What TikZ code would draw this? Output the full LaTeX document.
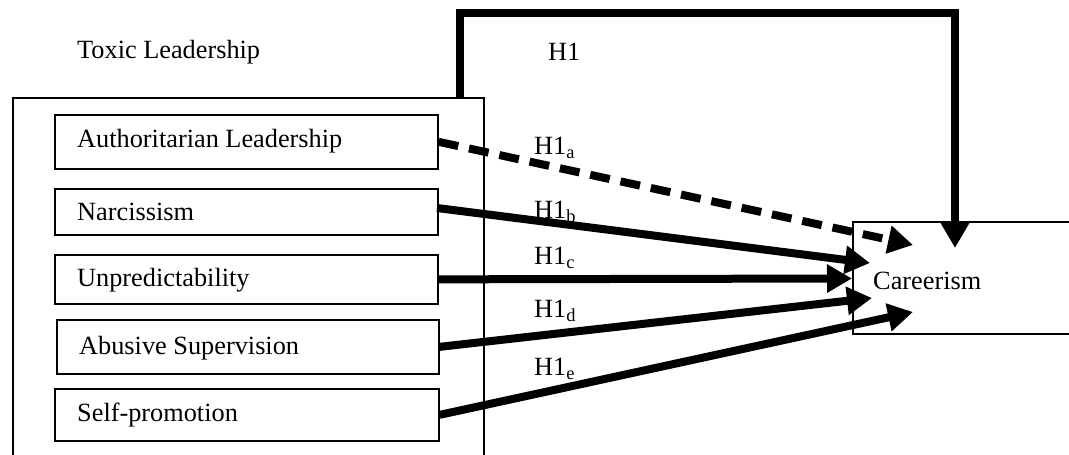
\documentclass[tikz,border=0pt]{standalone}
\usepackage{fontspec}
\setmainfont{Liberation Serif}
\usetikzlibrary{arrows.meta}
\begin{document}
\begin{tikzpicture}[x=1pt,y=-1pt,
  every node/.style={font=\fontsize{26.3}{30}\selectfont},
  box/.style={draw,line width=1.7pt,rectangle,inner sep=0pt,anchor=north west},
  lbl/.style={anchor=west,inner sep=0pt},
  con/.style={line width=8pt,-{Triangle[length=25pt,width=27pt]}},
  dcon/.style={con,dash pattern=on 20pt off 11pt}]
\clip (0,0) rectangle (1069,455);
\fill[white] (0,0) rectangle (1069,455);
% outer box
\node[box,minimum width=471pt,minimum height=370pt] (toxic) at (12,97) {};
\node[lbl] (toxiclbl) at (77,52) {Toxic Leadership};
% inner boxes
\node[box,minimum width=383pt,minimum height=54pt] (auth) at (54,114) {};
\node[lbl] at (77,141) {Authoritarian Leadership};
\node[box,minimum width=383pt,minimum height=46pt] (narc) at (54,188) {};
\node[lbl] at (77,212) {Narcissism};
\node[box,minimum width=383pt,minimum height=49pt] (unpr) at (54,254) {};
\node[lbl] at (77,280) {Unpredictability};
\node[box,minimum width=382pt,minimum height=54pt] (abus) at (56,319) {};
\node[lbl] at (79,348) {Abusive Supervision};
\node[box,minimum width=384pt,minimum height=52pt] (self) at (54,388) {};
\node[lbl] at (77,415) {Self-promotion};
% careerism
\node[box,minimum width=230pt,minimum height=112pt] (car) at (852,221) {};
\node[lbl] (carlbl) at (873,281) {Careerism};
% coordinates
\coordinate (h1s) at (460,97);
\coordinate (ta) at (913,245);
\coordinate (tb) at (870,263);
\coordinate (tc) at (852,278.5);
\coordinate (td) at (872,298);
\coordinate (te) at (913,312);
\coordinate (tt) at (955,248);
% connectors
\draw[con,line width=8.5pt] (h1s) -- (460,13) -- (955,13) -- (tt);
\draw[dcon] (auth.east) -- (ta);
\draw[con] (437,208) -- (tb);
\draw[con] (unpr.east) -- (tc);
\draw[con] (abus.east) -- (td);
\draw[con] (self.east) -- (te);
% labels
\node[lbl] at (548,52) {H1};
\node[lbl] at (534,148) {H1\textsubscript{a}};
\node[lbl] at (534,212) {H1\textsubscript{b}};
\node[lbl] at (534,258) {H1\textsubscript{c}};
\node[lbl] at (534,311) {H1\textsubscript{d}};
\node[lbl] at (534,369) {H1\textsubscript{e}};
\end{tikzpicture}
\end{document}
